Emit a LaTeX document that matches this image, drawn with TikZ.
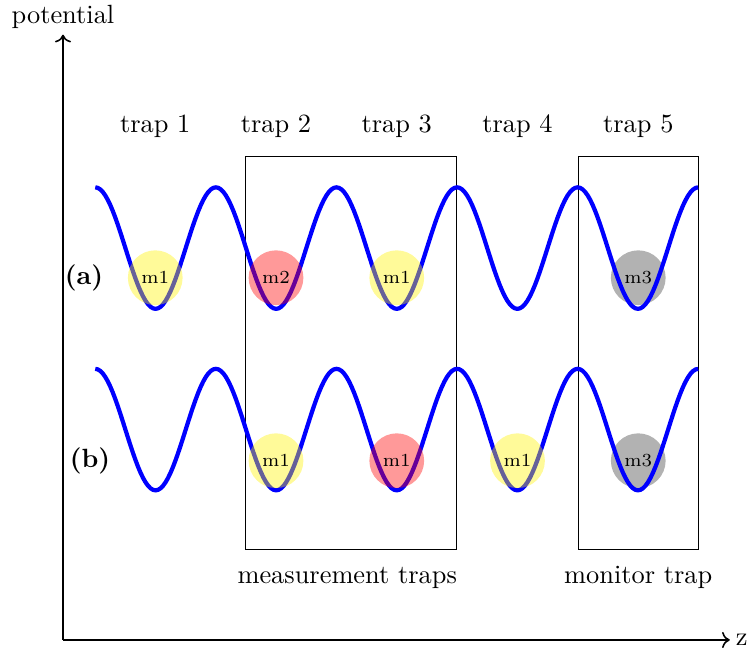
\documentclass[tikz,border=0pt]{standalone}
\usetikzlibrary{arrows.meta, positioning}
\tikzset{
  axis/.style={->, semithick},
  wave/.style={blue, ultra thick},
  trapbox/.style={draw, thin},
  ion/.style={circle, minimum size=7.3mm, inner sep=0pt, font=\scriptsize},
  ionA/.style={ion, fill=yellow, fill opacity=0.4, text opacity=1},
  ionB/.style={ion, fill=red, fill opacity=0.4, text opacity=1},
  ionC/.style={ion, fill=black!30},
  label/.style={font=\normalsize}
}

\begin{document}
\begin{tikzpicture}[x=1cm,y=1cm]
\useasboundingbox (-0.84,-0.107) rectangle (9.16,8.533);
% axes
\coordinate (origin) at (0,0);
\coordinate (zend) at (8.89,0);
\coordinate (vend) at (0,8.07);
\draw[axis] (origin) -- (zend) node[right, inner sep=2pt] (zlab) {z};
\draw[axis] (origin) -- (vend) node[above, inner sep=2pt] (vlab) {potential};

% trap names
\node[label] (t1) at (1.23,6.85) {trap 1};
\node[label] (t2) at (2.84,6.85) {trap 2};
\node[label] (t3) at (4.45,6.85) {trap 3};
\node[label] (t4) at (6.06,6.85) {trap 4};
\node[label] (t5) at (7.67,6.85) {trap 5};

% measurement and monitor boxes
\draw[trapbox] (2.43,1.21) rectangle (5.25,6.44);
\draw[trapbox] (6.87,1.21) rectangle (8.47,6.44);
\node[label] (meas) at (3.79,0.83) {measurement traps};
\node[label] (mon) at (7.67,0.83) {monitor trap};

% (a)
\node[ionC] (a5) at (7.67,4.83) {m3};
\draw[wave] plot[domain=0:8.04, samples=241] ({\x+0.43}, {5.225+0.81*cos(\x/1.608*360)});
\node[ionA] (a1) at (1.23,4.83) {m1};
\node[ionB] (a2) at (2.84,4.83) {m2};
\node[ionA] (a3) at (4.45,4.83) {m1};
\node[font=\bfseries] (la) at (0.28,4.83) {(a)};

% (b)
\node[ionC] (b5) at (7.67,2.39) {m3};
\draw[wave] plot[domain=0:8.04, samples=241] ({\x+0.43}, {2.805+0.81*cos(\x/1.608*360)});
\node[ionA] (b2) at (2.84,2.39) {m1};
\node[ionB] (b3) at (4.45,2.39) {m1};
\node[ionA] (b4) at (6.06,2.39) {m1};
\node[font=\bfseries] (lb) at (0.36,2.39) {(b)};
\end{tikzpicture}
\end{document}
